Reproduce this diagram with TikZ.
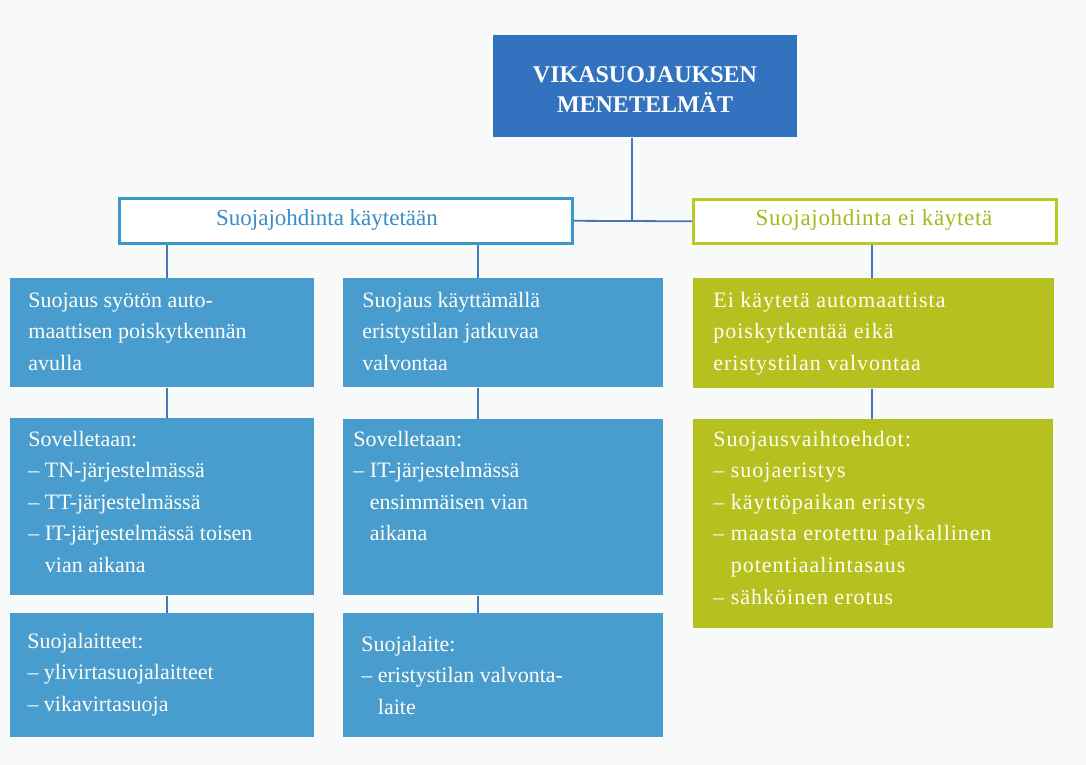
\documentclass[tikz,border=0pt]{standalone}
\usepackage{fontspec}
\setmainfont{Liberation Serif}
\definecolor{topblue}{RGB}{50,114,190}
\definecolor{boxblue}{RGB}{72,156,206}
\definecolor{lineblue}{RGB}{72,118,188}
\definecolor{frameblue}{RGB}{62,150,206}
\definecolor{textblue}{RGB}{58,140,200}
\definecolor{boxgreen}{RGB}{182,192,30}
\definecolor{framegreen}{RGB}{188,200,36}
\definecolor{textgreen}{RGB}{168,184,28}
\definecolor{paper}{RGB}{248,249,249}
\newcommand{\ind}{\phantom{–\ }}
\begin{document}
\begin{tikzpicture}[x=0.5pt,y=-0.5pt,
  panel/.style={rectangle, inner sep=0pt, anchor=north west, draw=none},
  bluepanel/.style={panel, fill=boxblue},
  greenpanel/.style={panel, fill=boxgreen},
  framed/.style={panel, fill=white, line width=1.3pt},
  headtxt/.style={inner sep=0pt, font=\fontsize{11.5}{14}\selectfont},
  txt/.style={inner sep=0pt, anchor=base west, text=white!96!yellow,
    font=\fontsize{11}{15.8}\selectfont},
  spaced/.style={font=\fontsize{11}{15.8}\selectfont\addfontfeature{LetterSpace=4.5}},
  link/.style={draw=lineblue, line width=0.9pt}
]
\fill[paper] (0,0) rectangle (1086,765);
\useasboundingbox (0,0) rectangle (1086,765);

% title
\node[panel, fill=topblue, minimum width=152pt, minimum height=51pt] (top) at (493,35) {};
\node[inner sep=0pt, text=white, align=center,
  font=\bfseries\fontsize{12}{15}\selectfont] (toptext) at (645,90)
  {VIKASUOJAUKSEN\\MENETELMÄT};

% the two main branches
\node[framed, draw=frameblue, minimum width=226.5pt, minimum height=22.5pt] (w1) at (118,197) {};
\node[headtxt, text=textblue] (w1text) at (327,220) {Suojajohdinta käytetään};
\node[framed, draw=framegreen, minimum width=181.5pt, minimum height=22pt] (w2) at (692,198) {};
\node[headtxt, text=textgreen, font=\fontsize{11.5}{14}\selectfont\addfontfeature{LetterSpace=3}]
  (w2text) at (874,220) {Suojajohdinta ei käytetä};

% blue column, left
\node[bluepanel, minimum width=152pt, minimum height=54.5pt] (a1) at (10,278) {};
\node[bluepanel, minimum width=152pt, minimum height=88.5pt] (a2) at (10,418) {};
\node[bluepanel, minimum width=152pt, minimum height=62pt] (a3) at (10,613) {};
% blue column, middle
\node[bluepanel, minimum width=160pt, minimum height=54.5pt] (b1) at (343,278) {};
\node[bluepanel, minimum width=160pt, minimum height=88pt] (b2) at (343,419) {};
\node[bluepanel, minimum width=160pt, minimum height=62pt] (b3) at (343,613) {};
% green column
\node[greenpanel, minimum width=180.5pt, minimum height=55pt] (c1) at (693,278) {};
\node[greenpanel, minimum width=180pt, minimum height=104.5pt] (c2) at (693,419) {};

% texts
\node[txt] (ta1) at (28,307) {\parbox[t]{170pt}{\raggedright
  Suojaus syötön auto-\\maattisen poiskytkennän\\avulla}};
\node[txt] (ta2) at (28,446) {\parbox[t]{170pt}{\raggedright
  Sovelletaan:\\– TN-järjestelmässä\\– TT-järjestelmässä\\
  – IT-järjestelmässä toisen\\\ind vian aikana}};
\node[txt] (ta3) at (27,648) {\parbox[t]{170pt}{\raggedright
  Suojalaitteet:\\– ylivirtasuojalaitteet\\– vikavirtasuoja}};
\node[txt] (tb1) at (362,307) {\parbox[t]{170pt}{\raggedright
  Suojaus käyttämällä\\eristystilan jatkuvaa\\valvontaa}};
\node[txt] (tb2) at (353,446) {\parbox[t]{170pt}{\raggedright
  Sovelletaan:\\– IT-järjestelmässä\\\ind ensimmäisen vian\\\ind aikana}};
\node[txt] (tb3) at (361,651) {\parbox[t]{170pt}{\raggedright
  Suojalaite:\\– eristystilan valvonta-\\\ind laite}};
\node[txt, spaced] (tc1) at (713,307) {\parbox[t]{180pt}{\raggedright
  Ei käytetä automaattista\\poiskytkentää eikä\\eristystilan valvontaa}};
\node[txt, spaced] (tc2) at (713,446) {\parbox[t]{180pt}{\raggedright
  Suojausvaihtoehdot:\\– suojaeristys\\– käyttöpaikan eristys\\
  – maasta erotettu paikallinen\\\ind potentiaalintasaus\\– sähköinen erotus}};

% connector positions
\coordinate (jx) at (632,220);
\coordinate (ax) at (167,0);
\coordinate (bx) at (478,0);
\coordinate (cx) at (872,0);

% connectors
\draw[link] (top.south -| jx) -- (jx);
\draw[link] (w1.east) -- (w2.west);
\draw[link] (w1.south -| ax) -- (a1.north -| ax);
\draw[link] (a1.south -| ax) -- (a2.north -| ax);
\draw[link] (a2.south -| ax) -- (a3.north -| ax);
\draw[link] (w1.south -| bx) -- (b1.north -| bx);
\draw[link] (b1.south -| bx) -- (b2.north -| bx);
\draw[link] (b2.south -| bx) -- (b3.north -| bx);
\draw[link] (w2.south -| cx) -- (c1.north -| cx);
\draw[link] (c1.south -| cx) -- (c2.north -| cx);
\end{tikzpicture}
\end{document}
